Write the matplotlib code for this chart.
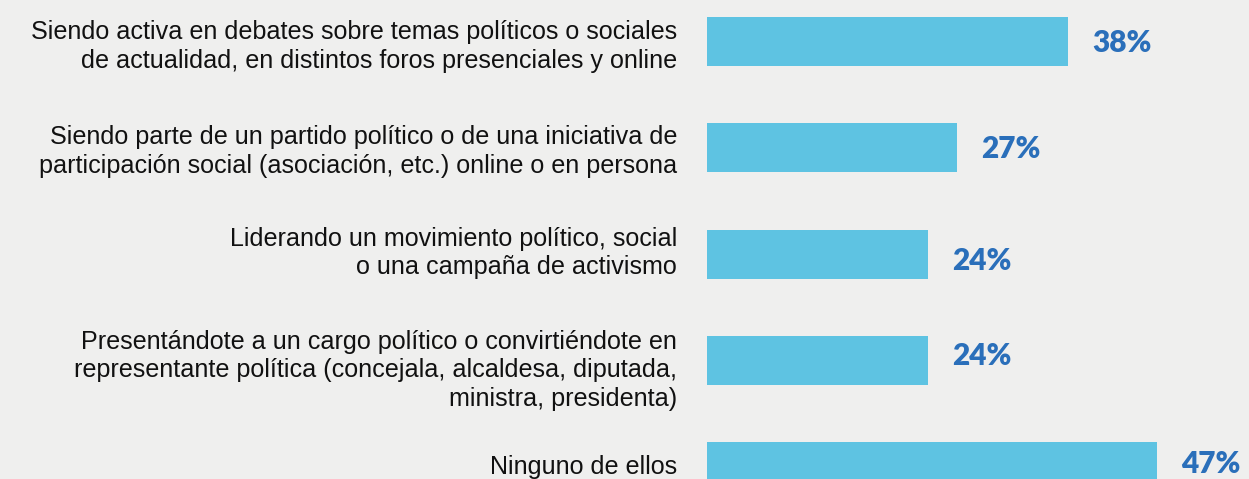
import matplotlib.pyplot as plt

# Data (bar lengths, labels as printed)
categories = [
    "Siendo activa en debates sobre temas políticos o sociales\nde actualidad, en distintos foros presenciales y online",
    "Siendo parte de un partido político o de una iniciativa de\nparticipación social (asociación, etc.) online o en persona",
    "Liderando un movimiento político, social\no una campaña de activismo",
    "Presentándote a un cargo político o convirtiéndote en\nrepresentante política (concejala, alcaldesa, diputada,\nministra, presidenta)",
    "Ninguno de ellos",
]
values = [38.0, 26.3, 23.3, 23.3, 47.4]
value_labels = ["38%", "27%", "24%", "24%", "47%"]

bg = "#efefee"
bar_color = "#5ec3e2"
num_color = "#2a6fba"

W, H, DPI = 1249, 479, 100
fig = plt.figure(figsize=(W / DPI, H / DPI), dpi=DPI, facecolor=bg)

# axes start where the bars start, full height
ax_left = 707
ax = fig.add_axes([ax_left / W, 0, (W - ax_left) / W, 1])
ax.set_facecolor(bg)
px_per_unit = 9.5
ax.set_xlim(0, (W - ax_left) / px_per_unit)
step = 106.25
ax.set_ylim((H - 41.5) / step, -41.5 / step)

y = list(range(len(categories)))
ax.barh(y, values, height=49 / step, color=bar_color)

pt = 72 / DPI  # points per pixel
label_dy = [-1, -1, -7, 4, 3]   # small vertical nudges (px) of the numbers
text_dy = [-5, -4, 1, -10, 0]

for i, (cat, v, lab) in enumerate(zip(categories, values, value_labels)):
    ax.annotate(cat, xy=(0, i), xytext=(-30 * pt, text_dy[i] * pt),
                textcoords="offset points", ha="right", va="center",
                fontsize=18.1, family="Liberation Sans", color="#111111",
                linespacing=1.25, annotation_clip=False)
    ax.annotate(lab, xy=(v, i), xytext=(24 * pt, label_dy[i] * pt),
                textcoords="offset points", ha="left", va="center",
                fontsize=21.5, family="Lato", fontweight="heavy",
                color=num_color, annotation_clip=False)

ax.axis("off")
fig.savefig("out.png", dpi=DPI, facecolor=bg)
